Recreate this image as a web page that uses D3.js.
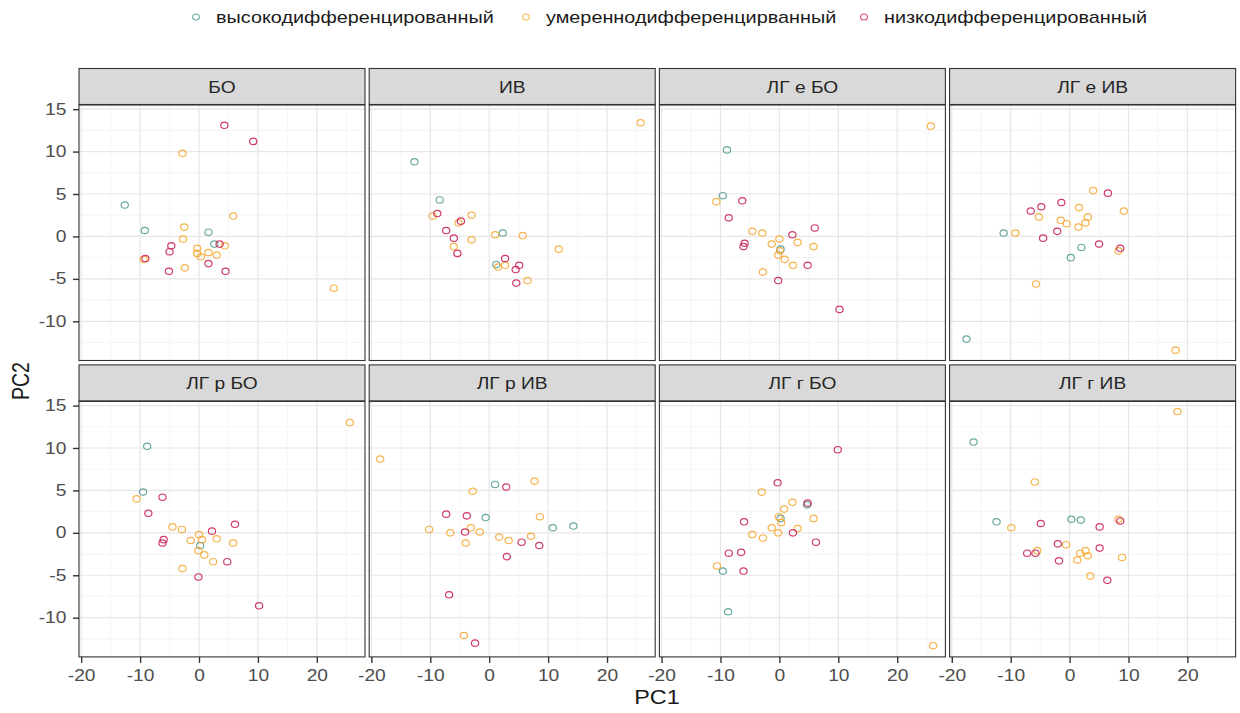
<!DOCTYPE html>
<html>
<head>
<meta charset="utf-8">
<script src="https://cdn.jsdelivr.net/npm/d3@7"></script>
<style>
  body { margin: 0; background: #fff; }
  svg { display: block; font-family: "Liberation Sans", Arial, sans-serif; }
</style>
</head>
<body>
<svg id="chart" width="1240" height="713"></svg>
<script>
// facet names and groups
var facets = ["БО", "ИВ", "ЛГ е БО", "ЛГ е ИВ", "ЛГ р БО", "ЛГ р ИВ", "ЛГ г БО", "ЛГ г ИВ"];
var groups = ["высокодифференцированный", "умереннодифференцирванный", "низкодифференцированный"];
var groupColors = ["#4f9a8e", "#f4a62e", "#c81a50"];

var xTicks = [-20, -10, 0, 10, 20];
var xMinor = [-15, -5, 5, 15, 25];
var yTicks = [-10, -5, 0, 5, 10, 15];
var yMinor = [-12.5, -7.5, -2.5, 2.5, 7.5, 12.5];

// [PC1, PC2, group index]
var pointsBO = [
  [-12.6, 3.7, 0], [-9.2, 0.7, 0], [1.6, 0.5, 0], [2.6, -0.9, 0],
  [-2.8, 9.8, 1], [-2.5, 1.1, 1], [-2.7, -0.3, 1], [-2.4, -3.7, 1], [5.8, 2.4, 1], [-0.3, -1.4, 1],
  [-0.3, -2.0, 1], [0.3, -2.4, 1], [1.6, -1.9, 1], [3.0, -2.2, 1], [4.4, -1.1, 1], [22.9, -6.1, 1], [-9.4, -2.7, 1],
  [4.3, 13.1, 2], [9.2, 11.2, 2], [-9.1, -2.6, 2], [-4.7, -1.1, 2], [-5.0, -1.8, 2], [-5.1, -4.1, 2],
  [1.6, -3.2, 2], [4.5, -4.1, 2], [3.5, -0.9, 2]
];
var pointsIV = [
  [-12.7, 8.8, 0], [-8.4, 4.3, 0], [2.3, 0.4, 0], [1.2, -3.3, 0],
  [25.7, 13.4, 1], [-9.6, 2.4, 1], [-5.2, 1.6, 1], [-3.0, 2.5, 1], [-3.0, -0.4, 1], [-6.0, -1.2, 1],
  [1.0, 0.2, 1], [5.7, 0.1, 1], [11.8, -1.5, 1], [1.5, -3.6, 1], [2.7, -3.4, 1], [6.5, -5.2, 1],
  [-8.8, 2.7, 2], [-4.8, 1.8, 2], [-7.3, 0.7, 2], [-6.0, -0.2, 2], [-5.4, -2.0, 2], [2.7, -2.6, 2],
  [5.1, -3.4, 2], [4.5, -3.9, 2], [4.6, -5.5, 2]
];
var pointsLGeBO = [
  [-8.9, 10.2, 0], [-9.6, 4.8, 0], [0.2, -1.5, 0],
  [25.7, 13.0, 1], [-10.7, 4.1, 1], [-4.6, 0.6, 1], [-2.9, 0.4, 1], [-1.3, -0.9, 1], [0.0, -0.3, 1],
  [3.1, -0.7, 1], [5.8, -1.2, 1], [-0.2, -2.2, 1], [0.9, -2.7, 1], [2.3, -3.4, 1], [-2.8, -4.2, 1], [0.1, -1.7, 1],
  [-6.3, 4.2, 2], [-8.6, 2.2, 2], [6.0, 1.0, 2], [2.2, 0.2, 2], [-5.9, -0.8, 2], [-6.1, -1.2, 2],
  [4.8, -3.4, 2], [-0.2, -5.2, 2], [10.2, -8.6, 2]
];
var pointsLGeIV = [
  [-17.5, -12.1, 0], [-11.2, 0.4, 0], [2.0, -1.3, 0], [0.2, -2.5, 0],
  [18.0, -13.4, 1], [-9.2, 0.4, 1], [-5.2, 2.3, 1], [-5.7, -5.6, 1], [4.0, 5.4, 1], [1.6, 3.4, 1],
  [9.2, 3.0, 1], [3.1, 2.3, 1], [2.7, 1.6, 1], [-1.5, 1.9, 1], [-0.5, 1.5, 1], [1.5, 1.1, 1], [8.3, -1.7, 1],
  [6.5, 5.1, 2], [-1.4, 4.0, 2], [-4.8, 3.5, 2], [-6.6, 3.0, 2], [-2.1, 0.6, 2], [-4.5, -0.2, 2],
  [5.0, -0.9, 2], [8.6, -1.4, 2]
];
var pointsLGrBO = [
  [-8.8, 10.2, 0], [-9.5, 4.8, 0], [0.2, -1.5, 0],
  [25.6, 13.0, 1], [-10.6, 4.0, 1], [-4.5, 0.7, 1], [-2.9, 0.4, 1], [-1.4, -0.9, 1], [0.0, -0.2, 1],
  [0.5, -0.8, 1], [3.0, -0.7, 1], [5.8, -1.2, 1], [-0.1, -2.1, 1], [0.9, -2.6, 1], [2.4, -3.4, 1], [-2.8, -4.2, 1],
  [-6.2, 4.2, 2], [-8.6, 2.3, 2], [6.1, 1.0, 2], [2.2, 0.2, 2], [-6.0, -0.8, 2], [-6.2, -1.2, 2],
  [4.8, -3.4, 2], [-0.1, -5.2, 2], [10.2, -8.6, 2]
];
var pointsLGrIV = [
  [1.0, 5.7, 0], [-0.6, 1.8, 0], [10.8, 0.6, 0], [14.3, 0.8, 0],
  [-18.5, 8.7, 1], [-2.8, 4.9, 1], [7.7, 6.1, 1], [8.6, 1.9, 1], [-10.2, 0.4, 1], [-6.6, 0.0, 1],
  [-3.1, 0.6, 1], [-1.6, 0.1, 1], [-4.0, -1.2, 1], [1.7, -0.5, 1], [3.3, -0.9, 1], [7.1, -0.4, 1], [-4.3, -12.1, 1],
  [2.9, 5.4, 2], [-7.3, 2.2, 2], [-3.8, 2.0, 2], [-4.1, 0.1, 2], [5.5, -1.1, 2], [8.5, -1.5, 2],
  [3.0, -2.8, 2], [-6.8, -7.3, 2], [-2.4, -13.0, 2]
];
var pointsLGgBO = [
  [-9.6, -4.5, 0], [-8.7, -9.3, 0], [4.7, 3.3, 0], [0.2, 1.7, 0],
  [-3.0, 4.8, 1], [2.2, 3.6, 1], [0.8, 2.8, 1], [-0.1, 1.9, 1], [0.3, 1.2, 1], [-1.3, 0.6, 1],
  [-0.2, 0.0, 1], [-4.6, -0.2, 1], [-2.8, -0.6, 1], [3.1, 0.5, 1], [5.8, 1.7, 1], [-10.6, -3.9, 1], [26.1, -13.3, 1],
  [9.9, 9.8, 2], [-0.3, 5.9, 2], [4.8, 3.5, 2], [-6.0, 1.3, 2], [2.3, 0.0, 2], [6.2, -1.1, 2],
  [-8.6, -2.4, 2], [-6.5, -2.3, 2], [-6.1, -4.5, 2]
];
var pointsLGgIV = [
  [-16.3, 10.7, 0], [-12.4, 1.3, 0], [0.3, 1.6, 0], [1.9, 1.5, 0],
  [18.3, 14.3, 1], [-5.9, 6.0, 1], [-9.9, 0.6, 1], [8.3, 1.6, 1], [-0.6, -1.4, 1], [-5.5, -2.1, 1],
  [1.8, -2.4, 1], [2.7, -2.1, 1], [3.1, -2.7, 1], [1.3, -3.2, 1], [8.9, -2.9, 1], [3.5, -5.1, 1],
  [-4.9, 1.1, 2], [5.1, 0.7, 2], [8.6, 1.4, 2], [-2.0, -1.3, 2], [5.1, -1.8, 2], [-7.2, -2.4, 2],
  [-5.8, -2.4, 2], [-1.8, -3.3, 2], [6.4, -5.6, 2]
];
var facetPoints = [pointsBO, pointsIV, pointsLGeBO, pointsLGeIV, pointsLGrBO, pointsLGrIV, pointsLGgBO, pointsLGgIV];

// layout
var panelLeft = 79, panelPitchX = 290.2, panelW = 286;
var stripTop = 68.5, panelPitchY = 296.4, stripH = 36, panelH = 255.5;
var textStretch = "scale(1.2,1)";

var svg = d3.select("#chart");

var x = d3.scaleLinear().domain([-20.37, 28.18]).range([0, panelW]);
var y = d3.scaleLinear().domain([-14.62, 15.49]).range([panelH, 0]);

// plain hyphen for negative tick labels, like the reference
var tickFmt = d => String(d);

function DrawPanel(i) {
  var col = i % 4, row = Math.floor(i / 4);
  var px = panelLeft + col * panelPitchX;
  var sy = stripTop + row * panelPitchY;
  var py = sy + stripH + 0.5;

  // strip
  svg.append("rect")
    .attr("x", px).attr("y", sy).attr("width", panelW).attr("height", stripH)
    .attr("fill", "#d9d9d9").attr("stroke", "#333").attr("stroke-width", 1.1);
  svg.append("text")
    .attr("transform", `translate(${px + panelW / 2},${sy + stripH / 2 + 6}) ${textStretch}`)
    .attr("text-anchor", "middle").attr("font-size", 16).attr("fill", "#262626")
    .text(facets[i]);

  var g = svg.append("g").attr("transform", `translate(${px},${py})`);

  // grid
  g.selectAll(".xminor").data(xMinor).enter().append("line")
    .attr("x1", d => x(d)).attr("x2", d => x(d)).attr("y1", 0).attr("y2", panelH)
    .attr("stroke", "#f0f0f0").attr("stroke-width", 0.7);
  g.selectAll(".yminor").data(yMinor).enter().append("line")
    .attr("y1", d => y(d)).attr("y2", d => y(d)).attr("x1", 0).attr("x2", panelW)
    .attr("stroke", "#f0f0f0").attr("stroke-width", 0.7);
  g.selectAll(".xmajor").data(xTicks).enter().append("line")
    .attr("x1", d => x(d)).attr("x2", d => x(d)).attr("y1", 0).attr("y2", panelH)
    .attr("stroke", "#e6e6e6").attr("stroke-width", 1.2);
  g.selectAll(".ymajor").data(yTicks).enter().append("line")
    .attr("y1", d => y(d)).attr("y2", d => y(d)).attr("x1", 0).attr("x2", panelW)
    .attr("stroke", "#e6e6e6").attr("stroke-width", 1.2);

  // points
  g.selectAll("ellipse").data(facetPoints[i]).enter().append("ellipse")
    .attr("cx", d => x(d[0])).attr("cy", d => y(d[1]))
    .attr("rx", 3.6).attr("ry", 3.2)
    .attr("fill", "none")
    .attr("stroke", d => groupColors[d[2]])
    .attr("stroke-width", 1.2)
    .attr("stroke-opacity", 0.85);

  // border
  g.append("rect").attr("width", panelW).attr("height", panelH)
    .attr("fill", "none").attr("stroke", "#333").attr("stroke-width", 1.1);

  // axes
  if (col == 0) {
    var ya = g.append("g").call(d3.axisLeft(y).tickValues(yTicks).tickSize(6).tickPadding(6).tickFormat(tickFmt));
    StyleAxis(ya);
    ya.selectAll("text").attr("x", -10.5).attr("transform", textStretch);
  }
  if (row == 1) {
    var xa = g.append("g").attr("transform", `translate(0,${panelH})`)
      .call(d3.axisBottom(x).tickValues(xTicks).tickSize(6).tickPadding(7).tickFormat(tickFmt));
    StyleAxis(xa);
    xa.selectAll("text").attr("transform", textStretch);
  }
}

function StyleAxis(a) {
  a.select(".domain").remove();
  a.selectAll("line").attr("stroke", "#333").attr("stroke-width", 1.4);
  a.selectAll("text").attr("font-size", 16).attr("fill", "#4d4d4d")
    .attr("font-family", "Liberation Sans, Arial, sans-serif");
}

for (var i = 0; i < facets.length; i++) {
  DrawPanel(i);
}

// axis titles
svg.append("text")
  .attr("transform", `translate(657,704) ${textStretch}`)
  .attr("text-anchor", "middle").attr("font-size", 19.5).attr("fill", "#1a1a1a")
  .text("PC1");
svg.append("text")
  .attr("transform", `translate(29,381) ${textStretch} rotate(-90)`)
  .attr("text-anchor", "middle").attr("font-size", 19.5).attr("fill", "#1a1a1a")
  .text("PC2");

// legend
var legendX = [196, 526, 864];
var legend = svg.append("g");
groups.forEach((name, k) => {
  legend.append("ellipse")
    .attr("cx", legendX[k]).attr("cy", 17).attr("rx", 3.4).attr("ry", 3)
    .attr("fill", "none").attr("stroke", groupColors[k]).attr("stroke-width", 1.1).attr("stroke-opacity", 0.8);
  legend.append("text")
    .attr("transform", `translate(${legendX[k] + 20},22.5) scale(1.24,1)`)
    .attr("font-size", 16).attr("fill", "#1a1a1a")
    .text(name);
});
</script>
</body>
</html>
